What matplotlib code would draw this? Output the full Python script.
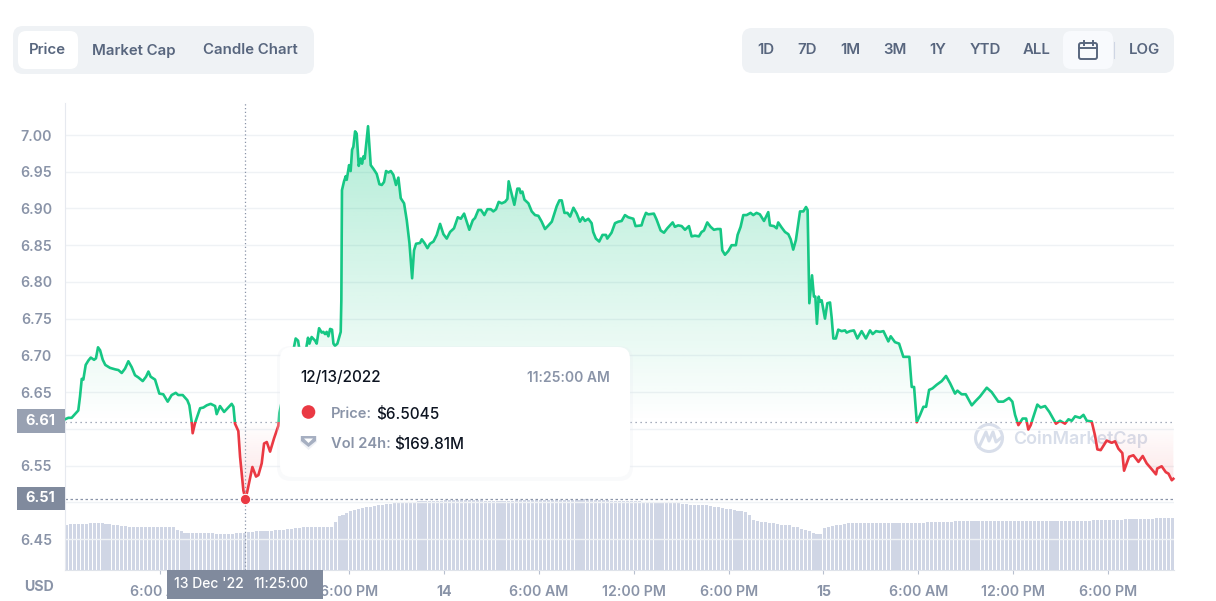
import numpy as np
import matplotlib
matplotlib.use('Agg')
import matplotlib.pyplot as plt
from matplotlib.patches import FancyBboxPatch, Rectangle, Circle, Polygon, PathPatch
from matplotlib.path import Path
from matplotlib.colors import to_rgb

plt.rcParams['font.family'] = ['Inter', 'DejaVu Sans']

# hours since 13 Dec 00:00
price_hours = [
    0.00, 0.21, 0.42, 0.63, 0.84, 0.95, 1.06, 1.16, 1.31, 1.48,
    1.63, 1.84, 1.96, 2.09, 2.22, 2.39, 2.55, 2.85, 3.17, 3.38,
    3.59, 3.80, 4.01, 4.22, 4.43, 4.64, 4.92, 5.13, 5.28, 5.42,
    5.70, 5.97, 6.22, 6.50, 6.75, 7.01, 7.17, 7.45, 7.74, 7.87,
    8.02, 8.08, 8.23, 8.55, 8.76, 8.97, 9.22, 9.50, 9.60, 9.81,
    10.07, 10.55, 10.66, 10.76, 10.97, 11.08, 11.29, 11.42, 11.54, 11.86,
    12.09, 12.24, 12.45, 12.60, 12.77, 12.98, 13.23, 13.50, 13.57, 13.75,
    14.00, 14.25, 14.50, 14.60, 14.75, 14.83, 15.04, 15.26, 15.38, 15.47,
    15.61, 15.83, 15.93, 16.08, 16.25, 16.35, 16.46, 16.56, 16.67, 16.78,
    16.90, 16.99, 17.09, 17.24, 17.45, 17.49, 17.53, 17.66, 17.77, 17.83,
    17.98, 18.08, 18.17, 18.25, 18.36, 18.46, 18.59, 18.72, 18.80, 18.89,
    18.97, 19.18, 19.35, 19.52, 19.73, 19.90, 20.05, 20.19, 20.32, 20.47,
    20.62, 20.78, 20.95, 21.10, 21.25, 21.46, 21.63, 21.80, 21.97, 22.09,
    22.22, 22.47, 22.58, 22.75, 22.94, 23.10, 23.32, 23.53, 23.74, 23.95,
    24.16, 24.37, 24.62, 24.86, 25.05, 25.26, 25.59, 25.81, 25.95, 26.16,
    26.33, 26.54, 26.73, 26.95, 27.11, 27.28, 27.45, 27.64, 27.85, 28.00,
    28.08, 28.21, 28.44, 28.63, 28.76, 28.84, 28.95, 29.08, 29.33, 29.54,
    29.75, 29.96, 30.17, 30.38, 30.60, 30.81, 31.02, 31.12, 31.29, 31.44,
    31.61, 31.80, 31.97, 32.18, 32.39, 32.59, 32.76, 32.91, 33.12, 33.33,
    33.43, 33.60, 33.81, 34.02, 34.24, 34.32, 34.59, 34.81, 35.02, 35.23,
    35.44, 35.65, 35.97, 36.11, 36.49, 36.60, 36.77, 36.92, 37.27, 37.44,
    37.70, 37.91, 38.12, 38.46, 38.60, 38.81, 39.03, 39.24, 39.49, 39.66,
    39.87, 40.12, 40.29, 40.44, 40.65, 40.86, 41.07, 41.28, 41.49, 41.60,
    41.77, 41.98, 42.19, 42.46, 42.57, 42.76, 42.93, 43.14, 43.39, 43.56,
    43.77, 43.98, 44.24, 44.51, 44.62, 44.87, 45.04, 45.14, 45.36, 45.57,
    45.78, 45.93, 46.09, 46.26, 46.52, 46.73, 46.90, 47.00, 47.06, 47.11,
    47.28, 47.40, 47.49, 47.59, 47.70, 47.78, 47.89, 48.10, 48.25, 48.42,
    48.52, 48.63, 48.79, 48.94, 49.15, 49.37, 49.47, 49.68, 49.93, 50.15,
    50.42, 50.69, 50.95, 51.12, 51.33, 51.58, 51.80, 52.11, 52.26, 52.53,
    52.79, 53.06, 53.44, 53.59, 53.74, 53.91, 54.12, 54.33, 54.50, 54.69,
    54.90, 55.17, 55.49, 55.76, 56.02, 56.33, 56.48, 56.75, 57.01, 57.39,
    57.64, 57.91, 58.34, 58.65, 59.07, 59.39, 59.75, 59.96, 60.13, 60.34,
    60.61, 60.83, 60.97, 61.12, 61.54, 61.75, 62.03, 62.30, 62.72, 62.98,
    63.29, 63.51, 63.72, 63.93, 64.24, 64.46, 64.67, 64.98, 65.19, 65.34,
    65.55, 65.93, 66.25, 66.46, 66.67, 66.92, 67.03, 67.20, 67.35, 67.62,
    67.94, 68.21, 68.46, 68.78, 69.05, 69.13, 69.41, 69.67, 69.84, 70.05,
    70.15,
]
price_values = [
    6.613, 6.615, 6.615, 6.620, 6.625, 6.644, 6.668, 6.667, 6.687, 6.693,
    6.697, 6.694, 6.696, 6.711, 6.707, 6.694, 6.687, 6.683, 6.681, 6.680,
    6.676, 6.682, 6.692, 6.684, 6.673, 6.670, 6.665, 6.671, 6.678, 6.671,
    6.667, 6.648, 6.647, 6.637, 6.646, 6.649, 6.646, 6.646, 6.639, 6.632,
    6.609, 6.594, 6.608, 6.628, 6.629, 6.632, 6.634, 6.631, 6.620, 6.631,
    6.623, 6.634, 6.630, 6.607, 6.597, 6.562, 6.516, 6.5045, 6.515, 6.548,
    6.535, 6.537, 6.553, 6.580, 6.582, 6.569, 6.587, 6.604, 6.622, 6.640,
    6.660, 6.690, 6.712, 6.723, 6.720, 6.709, 6.706, 6.709, 6.724, 6.716,
    6.725, 6.720, 6.716, 6.737, 6.731, 6.732, 6.729, 6.732, 6.726, 6.736,
    6.735, 6.716, 6.713, 6.716, 6.732, 6.775, 6.925, 6.937, 6.944, 6.939,
    6.959, 6.951, 6.980, 6.984, 7.005, 7.002, 6.958, 6.968, 6.961, 6.971,
    6.968, 7.012, 6.959, 6.954, 6.947, 6.933, 6.932, 6.936, 6.951, 6.949,
    6.951, 6.946, 6.932, 6.942, 6.914, 6.907, 6.884, 6.853, 6.805, 6.843,
    6.852, 6.853, 6.858, 6.853, 6.846, 6.852, 6.855, 6.864, 6.879, 6.865,
    6.859, 6.868, 6.873, 6.888, 6.886, 6.893, 6.871, 6.884, 6.887, 6.898,
    6.898, 6.891, 6.899, 6.899, 6.896, 6.899, 6.909, 6.907, 6.909, 6.913,
    6.937, 6.925, 6.905, 6.927, 6.927, 6.921, 6.923, 6.912, 6.907, 6.896,
    6.891, 6.890, 6.882, 6.872, 6.877, 6.882, 6.896, 6.903, 6.911, 6.911,
    6.894, 6.894, 6.889, 6.901, 6.893, 6.882, 6.888, 6.883, 6.886, 6.880,
    6.868, 6.859, 6.855, 6.864, 6.864, 6.859, 6.867, 6.880, 6.882, 6.883,
    6.891, 6.888, 6.886, 6.876, 6.877, 6.885, 6.894, 6.892, 6.893, 6.885,
    6.870, 6.867, 6.873, 6.881, 6.875, 6.877, 6.876, 6.871, 6.876, 6.862,
    6.863, 6.862, 6.868, 6.870, 6.881, 6.875, 6.871, 6.872, 6.872, 6.843,
    6.837, 6.842, 6.850, 6.850, 6.864, 6.875, 6.891, 6.891, 6.894, 6.891,
    6.894, 6.892, 6.883, 6.895, 6.877, 6.876, 6.873, 6.881, 6.874, 6.868,
    6.865, 6.858, 6.844, 6.857, 6.896, 6.896, 6.902, 6.898, 6.830, 6.771,
    6.809, 6.780, 6.780, 6.743, 6.780, 6.773, 6.775, 6.750, 6.771, 6.772,
    6.752, 6.723, 6.723, 6.735, 6.733, 6.734, 6.731, 6.733, 6.734, 6.723,
    6.733, 6.723, 6.734, 6.729, 6.733, 6.732, 6.733, 6.719, 6.726, 6.718,
    6.716, 6.698, 6.698, 6.657, 6.657, 6.609, 6.619, 6.630, 6.630, 6.653,
    6.655, 6.660, 6.665, 6.672, 6.662, 6.648, 6.652, 6.647, 6.647, 6.632,
    6.638, 6.644, 6.656, 6.650, 6.637, 6.637, 6.642, 6.637, 6.619, 6.605,
    6.614, 6.614, 6.599, 6.605, 6.633, 6.629, 6.631, 6.623, 6.607, 6.611,
    6.607, 6.613, 6.611, 6.617, 6.615, 6.619, 6.611, 6.610, 6.591, 6.572,
    6.571, 6.584, 6.581, 6.583, 6.573, 6.567, 6.543, 6.553, 6.562, 6.564,
    6.555, 6.563, 6.553, 6.545, 6.538, 6.546, 6.549, 6.541, 6.539, 6.530,
    6.532,
]
base_price = 6.6097
hover_hour = 11.42
hover_price = 6.5045

# 24h volume in $M, one bar every 15 minutes
volume_values = [
    181, 182, 182, 182, 182, 182, 183, 183, 183, 183, 182, 182,
    181, 180, 179, 179, 178, 178, 178, 178, 178, 178, 178, 177,
    177, 177, 177, 177, 173, 171, 169, 168, 168, 168, 168, 168,
    168, 168, 167, 167, 167, 167, 167, 168, 169, 169, 170, 170,
    171, 171, 172, 172, 172, 173, 173, 173, 175, 175, 176, 176,
    177, 177, 177, 177, 177, 177, 178, 178, 185, 194, 196, 199,
    202, 203, 205, 206, 207, 208, 209, 210, 211, 212, 212, 213,
    214, 214, 215, 215, 215, 216, 216, 216, 217, 217, 217, 217,
    218, 218, 218, 218, 218, 218, 218, 218, 218, 218, 217, 217,
    217, 217, 217, 217, 217, 217, 218, 218, 218, 218, 218, 218,
    218, 218, 218, 218, 218, 218, 218, 218, 218, 218, 218, 219,
    219, 219, 218, 218, 218, 218, 217, 217, 216, 216, 216, 216,
    216, 216, 215, 215, 215, 215, 215, 214, 214, 213, 213, 213,
    212, 212, 211, 211, 211, 210, 210, 209, 208, 207, 206, 205,
    204, 203, 202, 201, 200, 195, 188, 186, 185, 185, 184, 184,
    182, 181, 180, 180, 178, 177, 175, 173, 171, 169, 167, 167,
    176, 178, 179, 180, 181, 182, 183, 183, 183, 183, 183, 183,
    183, 183, 183, 183, 183, 183, 183, 183, 183, 183, 183, 183,
    183, 184, 185, 185, 185, 185, 185, 185, 185, 186, 186, 186,
    186, 186, 186, 186, 186, 186, 186, 186, 186, 186, 186, 186,
    186, 186, 186, 186, 186, 186, 186, 187, 187, 187, 187, 187,
    187, 187, 187, 187, 187, 187, 187, 187, 188, 188, 188, 188,
    188, 188, 188, 188, 189, 189, 189, 189, 189, 190, 190, 190,
    191, 191, 191, 191, 191,
]

y_ticks = [6.45, 6.50, 6.55, 6.60, 6.65, 6.70, 6.75, 6.80, 6.85, 6.90, 6.95, 7.00]
y_labels = ['6.45', '', '6.55', '', '6.65', '6.70', '6.75', '6.80', '6.85', '6.90', '6.95', '7.00']
x_ticks = [6, 12, 18, 24, 30, 36, 42, 48, 54, 60, 66]
# 12:00 PM of the first day is hidden by the date box, so no label there
x_labels = ['6:00 AM', '', '6:00 PM', '14', '6:00 AM', '12:00 PM', '6:00 PM',
            '15', '6:00 AM', '12:00 PM', '6:00 PM']

GREEN = '#16c784'
RED = '#ea3943'
GREY = '#8a94a8'
SLATE = '#58667e'
PANEL = '#eff2f5'
W, H = 1216, 601

fig = plt.figure(figsize=(W / 100, H / 100), dpi=100, facecolor='white')


def px_rect(left, top, right, bottom):
    return [left / W, 1 - bottom / H, (right - left) / W, (bottom - top) / H]


# background layer: watermark sits under the price line
bg = fig.add_axes([0, 0, 1, 1], zorder=0)
bg.set_xlim(0, W)
bg.set_ylim(H, 0)
bg.axis('off')
bg.add_patch(Circle((989, 438), 13.5, fill=False, ec='#d8deea', lw=2.2))
bg.plot([979, 986, 989, 993, 996, 1002], [447, 432, 441, 432, 442, 437], color='#d8deea', lw=2.2)
bg.text(1013, 439, 'CoinMarketCap', fontsize=12.9, fontweight='semibold', color='#d8deea',
        va='center', ha='left')

# volume bars
vol_ax = fig.add_axes(px_rect(65, 103, 1174, 570), zorder=1)
vol_hours = np.arange(len(volume_values)) * 0.25
vol_ax.bar(vol_hours, volume_values, width=0.19, color='#d0d6e5', align='edge')
vol_ax.set_xlim(0, 70.19)
vol_ax.set_ylim(112.8, 813)
vol_ax.axis('off')

# price
ax = fig.add_axes(px_rect(65, 103, 1174, 570), zorder=2)
ax.patch.set_visible(False)
ax.set_xlim(0, 70.19)
ax.set_ylim(6.4078, 7.0436)
ax.set_yticks(y_ticks)
ax.set_yticklabels(y_labels)
ax.set_xticks(x_ticks)
ax.set_xticklabels(x_labels)
ax.grid(axis='y', color='#eff2f5', lw=1)
ax.set_axisbelow(True)
ax.tick_params(axis='y', length=0, pad=9.4, labelsize=10.2, labelcolor=GREY)
ax.tick_params(axis='x', length=3, width=0.8, color='#b8c0cf', pad=7.5, labelsize=10.2, labelcolor=GREY)
for lab in ax.get_yticklabels() + ax.get_xticklabels():
    lab.set_fontweight('semibold')
for lab in ax.get_xticklabels():
    if lab.get_text() in ('14', '15'):
        lab.set_fontweight('bold')
for side in ('top', 'right'):
    ax.spines[side].set_visible(False)
ax.spines['left'].set_color('#e6e9ef')
ax.spines['bottom'].set_color('#dfe3ea')

# gradient fills clipped to the area under/over the price line
verts = [(price_hours[0], base_price)] + list(zip(price_hours, price_values)) + \
        [(price_hours[-1], base_price), (price_hours[0], base_price)]
area = PathPatch(Path(verts), transform=ax.transData, fc='none', ec='none')
ax.add_patch(area)

grad = np.zeros((256, 2, 4))
grad[:, :, :3] = to_rgb(GREEN)
grad[:, :, 3] = np.linspace(0.33, 0.0, 256)[:, None]
im = ax.imshow(grad, extent=(0, 70.19, base_price, 7.01), aspect='auto', zorder=1)
im.set_clip_path(area)

grad = np.zeros((256, 2, 4))
grad[:, :, :3] = to_rgb(RED)
grad[:, :, 3] = np.linspace(0.0, 0.16, 256)[:, None]
im = ax.imshow(grad, extent=(0, 70.19, 6.50, base_price), aspect='auto', zorder=1)
im.set_clip_path(area)

ax.set_xlim(0, 70.19)
ax.set_ylim(6.4078, 7.0436)

# crosshair and baseline
ax.axhline(base_price, color=GREY, lw=0.9, ls=(0, (1, 3)), zorder=2)
ax.axhline(hover_price, color=GREY, lw=0.9, ls=(0, (2, 2)), zorder=2)
ax.axvline(hover_hour, color=GREY, lw=0.9, ls=(0, (1, 2)), zorder=2)

# line changes colour at the baseline
up_clip = Rectangle((0, base_price), 71, 1, transform=ax.transData)
down_clip = Rectangle((0, 6), 71, base_price - 6, transform=ax.transData)
line_up, = ax.plot(price_hours, price_values, color=GREEN, lw=1.9, zorder=3)
line_up.set_clip_path(up_clip)
line_down, = ax.plot(price_hours, price_values, color=RED, lw=1.9, zorder=3)
line_down.set_clip_path(down_clip)
ax.plot([hover_hour], [hover_price], 'o', color=RED, ms=7.5, mec='white', mew=0.8, zorder=4)

# top layer: buttons, tooltip, value boxes
ui = fig.add_axes([0, 0, 1, 1], zorder=3)
ui.patch.set_visible(False)
ui.set_xlim(0, W)
ui.set_ylim(H, 0)
ui.axis('off')


def round_box(left, top, right, bottom, r, **kw):
    p = FancyBboxPatch((left + r, top + r), right - left - 2 * r, bottom - top - 2 * r,
                       boxstyle='round,pad=%s,rounding_size=%s' % (r, r), **kw)
    ui.add_patch(p)
    return p


round_box(13, 26, 314, 74, 10, fc=PANEL, ec='none')
round_box(18, 31, 78, 69, 8, fc='white', ec='none')
for cx, name in zip([47, 134, 250], ['Price', 'Market Cap', 'Candle Chart']):
    ui.text(cx, 50.5, name, fontsize=10.8, fontweight='semibold', color=SLATE, ha='center', va='center')

round_box(742, 28, 1174, 73, 10, fc=PANEL, ec='none')
round_box(1063, 31, 1113, 69, 8, fc='#f8fafd', ec='none')
ui.plot([1113.5, 1113.5], [42, 58], color='#cfd6e4', lw=0.8)
for cx, name in zip([766, 807, 850, 895, 938, 985, 1037, 1144],
                    ['1D', '7D', '1M', '3M', '1Y', 'YTD', 'ALL', 'LOG']):
    ui.text(cx, 50.5, name, fontsize=10.8, fontweight='semibold', color=SLATE, ha='center', va='center')
# calendar icon
round_box(1079, 43, 1097, 59, 2, fc='none', ec=SLATE, lw=1.4)
ui.plot([1079, 1097], [48, 48], color=SLATE, lw=1.4)
ui.plot([1083.5, 1083.5], [41, 45], color=SLATE, lw=1.4)
ui.plot([1092.5, 1092.5], [41, 45], color=SLATE, lw=1.4)

# value boxes
ui.add_patch(Rectangle((17, 409), 48, 24, fc='#98a1b2', ec='none'))
ui.text(40, 421, '6.61', fontsize=10.4, fontweight='bold', color='white', ha='center', va='center')
ui.add_patch(Rectangle((17, 487), 48, 23, fc='#808a9d', ec='none'))
ui.text(40, 498.5, '6.51', fontsize=10.4, fontweight='bold', color='white', ha='center', va='center')
ui.add_patch(Rectangle((167, 570), 156, 29, fc='#808a9d', ec='none'))
ui.text(209, 584, "13 Dec '22", fontsize=10, fontweight='medium', color='white', ha='center', va='center')
ui.text(281, 584, '11:25:00', fontsize=10, fontweight='medium', color='white', ha='center', va='center')
ui.text(39, 587, 'USD', fontsize=10.2, fontweight='bold', color=GREY, ha='center', va='center')

# tooltip
round_box(277, 346, 633, 481, 14, fc='#e6e9f0', ec='none', alpha=0.22)
round_box(280, 347, 630, 477, 12, fc='white', ec='none')
ui.text(300, 378, '12/13/2022', fontsize=11, fontweight='medium', color='#0d1421', ha='left', va='center')
ui.text(610, 378, '11:25:00 AM', fontsize=10, fontweight='semibold', color=GREY, ha='right', va='center')
ui.add_patch(Circle((308.5, 412), 6.8, fc=RED, ec='none'))
ui.text(331, 414, 'Price:', fontsize=10.6, fontweight='semibold', color=GREY, ha='left', va='center')
ui.text(376, 414, '$6.5045', fontsize=11, fontweight='medium', color='#0d1421', ha='left', va='center')
ui.add_patch(Polygon([(300, 436), (317, 436), (317, 442), (308.5, 450), (300, 442)], fc='#eef0f5', ec='none'))
ui.add_patch(Polygon([(301, 436), (316, 436), (316, 441), (308.5, 447), (301, 441)], fc='#a6afc1', ec='none'))
ui.add_patch(Polygon([(304, 438.5), (313, 438.5), (308.5, 443)], fc='white', ec='none'))
ui.text(331, 444, 'Vol 24h:', fontsize=10.6, fontweight='semibold', color=GREY, ha='left', va='center')
ui.text(394, 444, '$169.81M', fontsize=11, fontweight='medium', color='#0d1421', ha='left', va='center')

fig.savefig('out.png', dpi=100, facecolor='white')
